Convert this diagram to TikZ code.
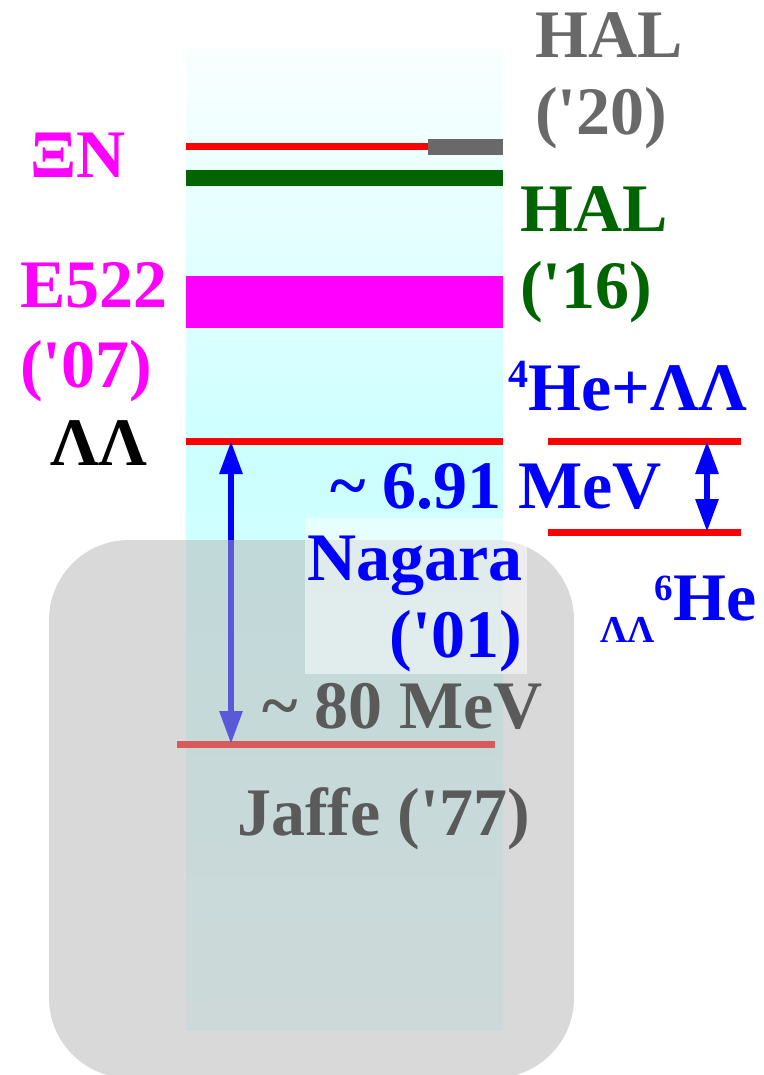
\documentclass[tikz,border=0pt]{standalone}
\usepackage{fontspec}
\setmainfont{Liberation Serif}
\usetikzlibrary{arrows.meta}
\definecolor{colcyan}{RGB}{204,255,255}
\definecolor{halgray}{RGB}{105,105,105}
\definecolor{halgreen}{RGB}{0,100,0}
\definecolor{boxgray}{RGB}{180,180,180}
\definecolor{expmag}{RGB}{255,0,255}
\newcommand{\lblfont}{\bfseries\fontsize{68}{74}\selectfont}
\newcommand{\q}{\textquotesingle}

\begin{document}
\begin{tikzpicture}[x=1pt,y=-1pt,
        lbl/.style={font=\lblfont,inner sep=0pt,anchor=base west},
        lvl/.style={red,line width=7pt},
        dblarrow/.style={{Triangle[length=33pt,width=22pt]}-{Triangle[length=33pt,width=22pt]},
                         blue,line width=6pt}
    ]
        \useasboundingbox (0,0) rectangle (763,1075);
        % column
        \shade[top color=colcyan!12,bottom color=colcyan] (186,50) rectangle (503,460);
        \shade[top color=colcyan,bottom color=colcyan!45] (186,460) rectangle (503,1030);
        % levels
        \draw[lvl] (186,147) -- (428,147);
        \fill[halgray] (428,139) rectangle (503,155);
        \fill[halgreen] (186,170) rectangle (503,186);
        \fill[expmag] (186,276) rectangle (503,328);
        \draw[lvl] (186,441) -- (503,441);
        \draw[lvl] (177,744) -- (495,744);
        \draw[lvl] (548,441) -- (741,441);
        \draw[lvl] (548,532) -- (741,532);
        \coordinate (ll) at (231,441);
        \coordinate (jf) at (231,744);
        \coordinate (he4) at (707,441);
        \coordinate (he6) at (707,532);
        \draw[dblarrow] (ll) -- (jf);
        \draw[dblarrow] (he4) -- (he6);
        \node[lbl] (mev80) at (262,728) {\textasciitilde\ 80 MeV};
        \node[lbl] (jaffe) at (237,835) {Jaffe (\q77)};
        % overlays
        \fill[boxgray,opacity=0.5,rounded corners=80pt] (49,540) rectangle (574,1078);
        \fill[white,opacity=0.5] (305,518) rectangle (527,674);
        % labels
        \node[lbl,expmag] (xin) at (30,178) {ΞN};
        \node[lbl,expmag] (e522) at (20,307) {E522};
        \node[lbl,expmag] (e522y) at ([yshift=-80pt]e522.base west) {(\q07)};
        \node[lbl] (lamlam) at (50,465) {ΛΛ};
        \node[lbl,halgray] (hal20) at (535,58) {HAL};
        \node[lbl,halgray] (hal20y) at ([yshift=-77pt]hal20.base west) {(\q20)};
        \node[lbl,halgreen] (hal16) at (520,232) {HAL};
        \node[lbl,halgreen] (hal16y) at ([yshift=-76pt]hal16.base west) {(\q16)};
        \node[lbl,blue] (he4ll) at (508,410)
            {\raisebox{23pt}{\fontsize{40}{40}\selectfont 4}He+ΛΛ};
        \node[lbl,blue] (mev691) at (330,508) {\textasciitilde\ 6.91 MeV};
        \node[lbl,blue] (nagara) at (307,580) {Nagara};
        \node[lbl,blue,anchor=base east] (nagaray) at (522,657) {(\q01)};
        \node[lbl,blue] (he6ll) at (600,620)
            {\raisebox{-22pt}{\fontsize{38}{38}\selectfont ΛΛ}\raisebox{20pt}{\fontsize{37}{37}\selectfont 6}He};
    \end{tikzpicture}
\end{document}
